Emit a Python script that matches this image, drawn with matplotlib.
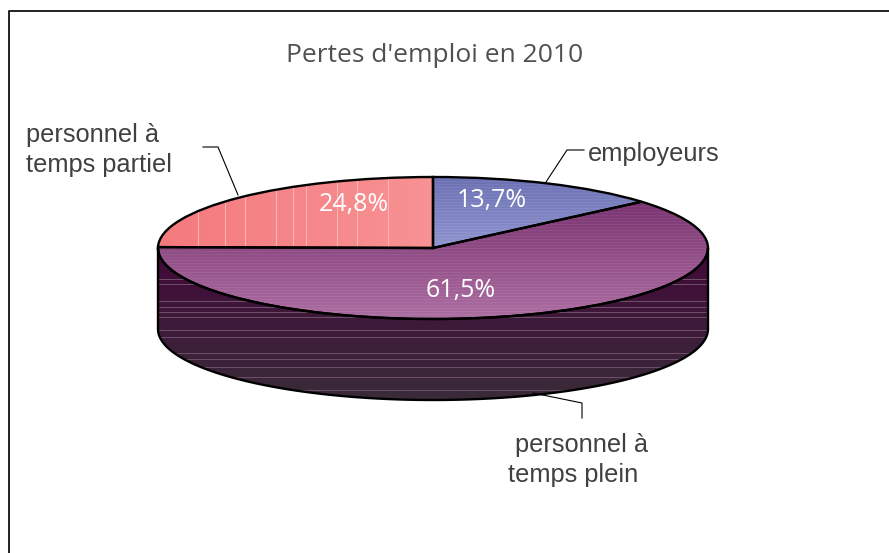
import numpy as np
import matplotlib
matplotlib.use("Agg")
import matplotlib.pyplot as plt
from matplotlib.colors import to_rgb
from matplotlib.lines import Line2D
from matplotlib.patches import Polygon

# data
categories = ["employeurs", "personnel à temps plein", "personnel à temps partiel"]
shares = [13.7, 61.5, 24.8]
title = "Pertes d'emploi en 2010"

W, H = 889, 553
CX, CY, A, B, DEPTH = 433, 248, 275, 71, 81

TEXT = "#404040"

fig = plt.figure(figsize=(W / 100, H / 100), dpi=100)


def fx(px):
    return px / W


def fy(py):
    return 1 - py / H


x0, x1, y0, y1 = 150, 716, 170, 406
ax = fig.add_axes([fx(x0), fy(y1), fx(x1 - x0), fy(y0) - fy(y1)])
xlim = ((x0 - CX) / A, (x1 - CX) / A)
ylim = ((CY - y1) / B, (CY - y0) / B)


def shade(top_px, bot_px, top_col, bot_col, clip, lines=(), line_col=None, every=0):
    # vertical gradient, one row per pixel, with the light banding of the original
    n = bot_px - top_px
    t = np.linspace(0, 1, n)[:, None]
    img = (1 - t) * np.array(to_rgb(top_col)) + t * np.array(to_rgb(bot_col))
    if every:
        img[::every] = np.clip(img[::every] + 0.035, 0, 1)
    for row in lines:
        img[row - top_px] = to_rgb(line_col)
    im = ax.imshow(img[:, None, :], aspect="auto", interpolation="nearest",
                   extent=(-1, 1, (CY - bot_px) / B, (CY - top_px) / B))
    im.set_clip_path(clip)
    return im


wedges, _, pcts = ax.pie(shares, startangle=90, counterclock=False, colors=["none"] * 3,
                         autopct=lambda p: f"{p:.1f}%".replace(".", ","),
                         wedgeprops=dict(edgecolor="black", linewidth=1.7),
                         textprops=dict(color="white", fontsize=18, family="Open Sans"))
for w in wedges:
    w.set_zorder(5)

# side wall
d = DEPTH / B
th = np.linspace(np.pi, 2 * np.pi, 200)
wall_xy = np.r_[np.c_[np.cos(th), np.sin(th)], np.c_[np.cos(th[::-1]), np.sin(th[::-1]) - d]]
wall = Polygon(wall_xy, closed=True, facecolor="none", edgecolor="black", linewidth=1.7, zorder=1.5)
ax.add_patch(wall)
shade(248, 401, "#42083A", "#3A2C39", wall,
      lines=[280, 285, 302, 308, 313, 318, 330, 337, 353, 359, 367, 377, 390], line_col="#6A4F66")

# top faces
shade(178, 249, "#6C71B2", "#9094CE", wedges[0], every=3)
shade(203, 320, "#7A3570", "#AC6FA2", wedges[1], every=3)

# the pink slice shades from left to right
n = 275
t = np.linspace(0, 1, n)[None, :]
pink = (1 - t)[..., None] * np.array(to_rgb("#F47A7E")) + t[..., None] * np.array(to_rgb("#F89294"))
for col in [198, 225, 245, 276, 293, 306, 337, 357, 388]:
    pink[0, col - 158] = to_rgb("#FBB4B4")
im = ax.imshow(pink, aspect="auto", interpolation="nearest", extent=(-1, 0, 0, 1))
im.set_clip_path(wedges[2])

ax.set_xlim(xlim)
ax.set_ylim(ylim)
ax.set_aspect("auto")
ax.axis("off")

# percentage labels sit where the original put them
for txt, (px, py) in zip(pcts, [(492, 200), (461, 290), (354, 204)]):
    txt.set_position(((px - CX) / A, (CY - py) / B))
    txt.set_zorder(6)

fig.text(fx(435), fy(55), title, ha="center", va="center", fontsize=19, color="#505050", family="Open Sans")

label_font = dict(fontsize=18.3, color=TEXT, family="Liberation Sans", linespacing=1.27)
fig.text(fx(588), fy(154), "employeurs", ha="left", va="center", **label_font)
fig.text(fx(26), fy(150), "personnel à\ntemps partiel", ha="left", va="center", **label_font)
fig.text(fx(508), fy(460), "\u00a0personnel à\ntemps plein", ha="left", va="center", **label_font)

for xs, ys in [([238, 218, 203], [195, 147, 147]),
               ([546, 567, 584], [182, 150, 150]),
               ([533, 582, 582], [393, 403, 418])]:
    fig.add_artist(Line2D([fx(v) for v in xs], [fy(v) for v in ys], color="black", linewidth=0.8,
                          transform=fig.transFigure))

# frame of the chart area: only top and left show, both run off the picture
fig.add_artist(Line2D([fx(9), fx(9), fx(W)], [fy(H), fy(10.5), fy(10.5)], color="#111111",
                      linewidth=1.3, transform=fig.transFigure))

fig.savefig("out.png", dpi=100)
